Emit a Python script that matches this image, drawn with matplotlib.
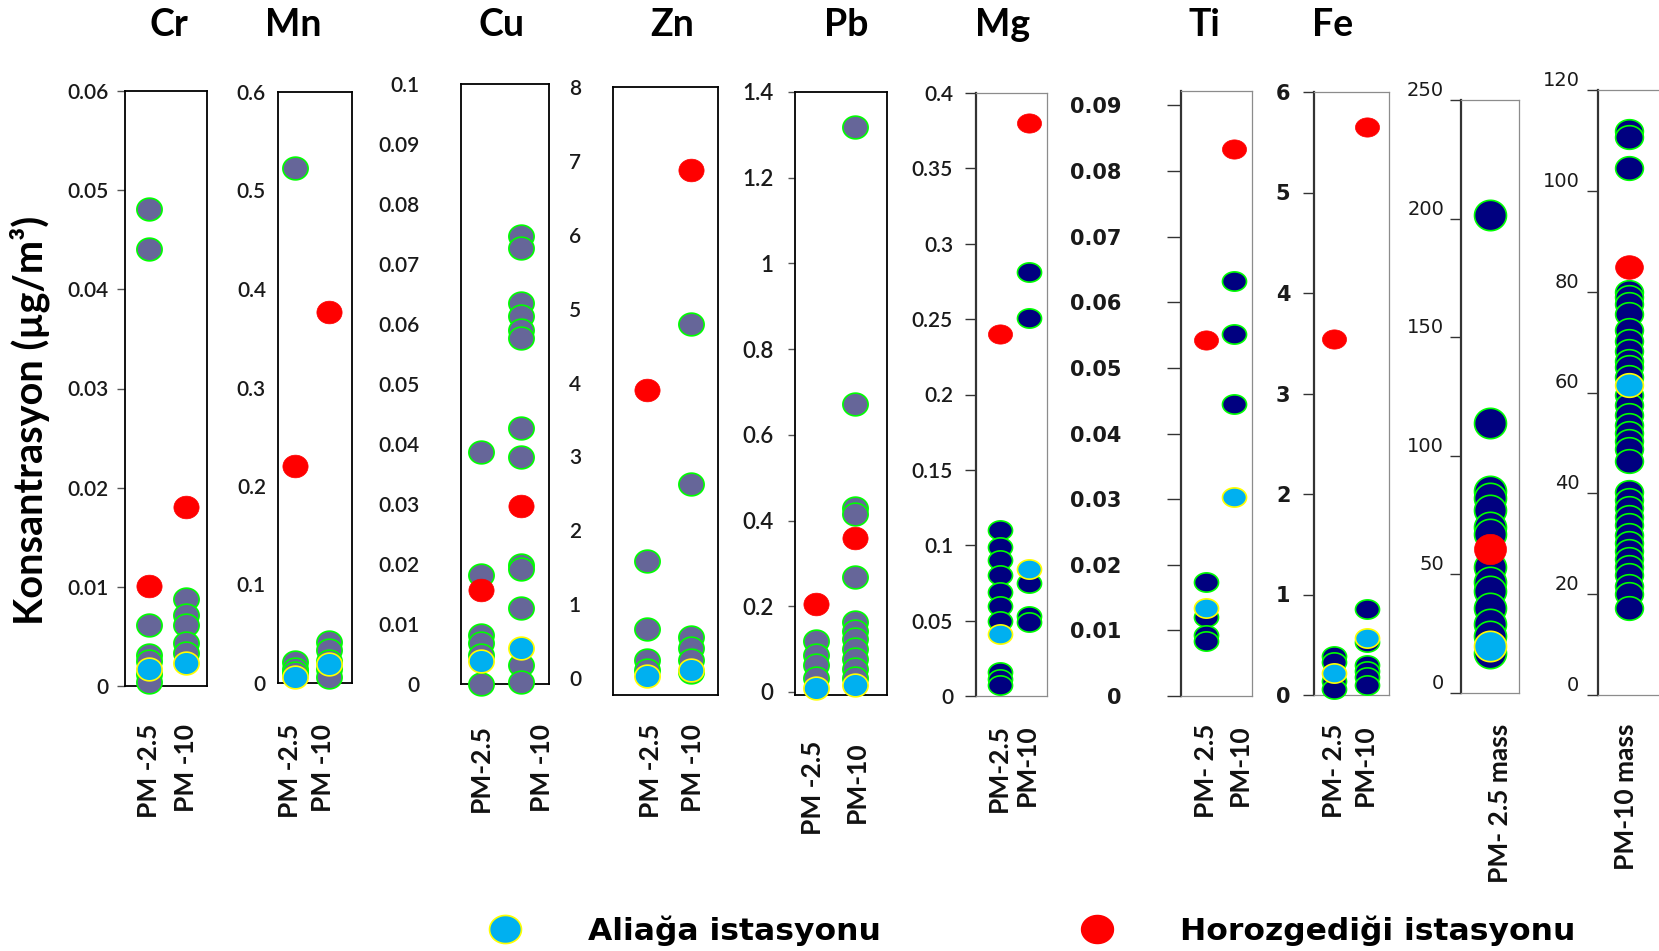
import numpy as np
import matplotlib
matplotlib.use("Agg")
import matplotlib.pyplot as plt
from matplotlib.path import Path
from matplotlib.lines import Line2D

W, H = 1659, 951

# %% data
# each metal: individual samples for PM-2.5 / PM-10, plus station means
cr_pm25 = [0.0481, 0.0441, 0.0062, 0.0031, 0.0025, 0.0012, 0.0004]
cr_pm10 = [0.0088, 0.0072, 0.0062, 0.0043, 0.0033]
cr_aliaga = [0.0017, 0.0023]
cr_horoz = [0.0101, 0.0181]

mn_pm25 = [0.523, 0.021, 0.0145, 0.010]
mn_pm10 = [0.0415, 0.033, 0.0228, 0.0145, 0.006]
mn_aliaga = [0.006, 0.019]
mn_horoz = [0.220, 0.377]

cu_pm25 = [0.0386, 0.0181, 0.0082, 0.0068, 0.0048, 0.0]
cu_pm10 = [0.0747, 0.0727, 0.0635, 0.0614, 0.059, 0.0577, 0.0427, 0.0379,
           0.0198, 0.0191, 0.0126, 0.0031, 0.0003]
cu_aliaga = [0.0038, 0.006]
cu_horoz = [0.0157, 0.0297]

zn_pm25 = [1.58, 0.66, 0.25, 0.11]
zn_pm10 = [4.79, 2.63, 0.55, 0.41, 0.25, 0.08]
zn_aliaga = [0.03, 0.11]
zn_horoz = [3.90, 6.87]

pb_pm25 = [0.12, 0.086, 0.062, 0.033]
pb_pm10 = [1.319, 0.671, 0.43, 0.416, 0.268, 0.1625, 0.143, 0.124, 0.10,
           0.076, 0.053, 0.033]
pb_aliaga = [0.01, 0.016]
pb_horoz = [0.206, 0.360]

mg_pm25 = [0.110, 0.099, 0.090, 0.080, 0.069, 0.060, 0.050, 0.016, 0.011, 0.007]
mg_pm10 = [0.281, 0.251, 0.075, 0.053, 0.049]
mg_aliaga = [0.041, 0.084]
mg_horoz = [0.240, 0.380]

ti_pm25 = [0.0173, 0.0121, 0.0093, 0.0084]
ti_pm10 = [0.0632, 0.0552, 0.0445]
ti_aliaga = [0.0134, 0.0303]
ti_horoz = [0.0543, 0.0833]

fe_pm25 = [0.39, 0.33, 0.14, 0.06]
fe_pm10 = [0.86, 0.53, 0.30, 0.24, 0.18, 0.10]
fe_aliaga = [0.22, 0.57]
fe_horoz = [3.54, 5.65]

pm25_mass = [201.7, 114, 85, 82, 77, 70, 67, 53, 47, 43, 36, 29, 24, 17]
pm25_mass_aliaga = [20]
pm25_mass_horoz = [60.6]

pm10_mass = [111.9, 110.7, 104.5, 80, 78.9, 77.6, 75.5, 72.3, 70.3, 68.3, 66.3,
             65, 63, 59.6, 57.6, 55.6, 53.6, 52, 50.4, 48.8, 46.4, 40.3, 38.7,
             37, 35.4, 33.8, 31.8, 30.2, 28.6, 27, 25.4, 23.8, 21.7, 20.1, 17.2]
pm10_mass_aliaga = [61.5]
pm10_mass_horoz = [84.8]

# %% panel layout (pixel boxes: left, top, right, bottom)
LATO = dict(family="Lato", weight="semibold", size=15)
panels = [
    dict(title="Cr", samples=[cr_pm25, cr_pm10], ali=cr_aliaga, hor=cr_horoz,
         box=(125, 91, 207, 686), xp=(149, 186), xl=(149, 186),
         labels=["PM -2.5", "PM -10"], ylim=(0, 0.06), ticks=np.arange(0, 0.061, 0.01),
         style="black", tlen=6, lpad=6, tx=169, font=LATO),
    dict(title="Mn", samples=[mn_pm25, mn_pm10], ali=mn_aliaga, hor=mn_horoz,
         box=(278, 92, 352, 683), xp=(295, 329), xl=(290, 323),
         labels=["PM -2.5", "PM -10"], ylim=(0, 0.6), ticks=np.arange(0, 0.61, 0.1),
         style="black", tlen=0, lpad=8.7, tx=293, font=LATO),
    dict(title="Cu", samples=[cu_pm25, cu_pm10], ali=cu_aliaga, hor=cu_horoz,
         box=(461, 84, 549, 684), xp=(481, 521), xl=(481, 542),
         labels=["PM-2.5", "PM -10"], ylim=(0, 0.1), ticks=np.arange(0, 0.101, 0.01),
         style="black", tlen=0, lpad=30, tx=502, font=LATO),
    dict(title="Zn", samples=[zn_pm25, zn_pm10], ali=zn_aliaga, hor=zn_horoz,
         box=(613, 87, 718, 695), xp=(647, 691), xl=(651, 693),
         labels=["PM -2.5", "PM -10"], ylim=(-0.23, 8), ticks=np.arange(0, 9, 1),
         style="black", tlen=0, lpad=23, tx=672, font=LATO),
    dict(title="Pb", samples=[pb_pm25, pb_pm10], ali=pb_aliaga, hor=pb_horoz,
         box=(795, 92, 887, 695), xp=(816, 855), xl=(813, 857),
         labels=["PM -2.5", "PM-10"], ylim=(-0.007, 1.4), ticks=np.arange(0, 1.41, 0.2),
         style="black", tlen=5, lpad=10.4, tx=846, xtop=741,
         font=dict(LATO, size=16)),
    dict(title="Mg", samples=[mg_pm25, mg_pm10], ali=mg_aliaga, hor=mg_horoz,
         box=(976, 93, 1047, 696), xp=(1000, 1029), xl=(999, 1027),
         labels=["PM-2.5", "PM-10"], ylim=(0, 0.4), ticks=np.arange(0, 0.401, 0.05),
         style="grey", tlen=8, lpad=8.5, tx=1003, font=LATO),
    dict(title="Ti", samples=[ti_pm25, ti_pm10], ali=ti_aliaga, hor=ti_horoz,
         box=(1181, 91, 1252, 696), xp=(1206, 1234), xl=(1206, 1240),
         labels=["PM- 2.5", "PM-10"], ylim=(0, 0.0922), ticks=np.arange(0, 0.091, 0.01),
         style="grey", tlen=10, lpad=33, tx=1204,
         font=dict(family="DejaVu Sans", weight="bold", size=15)),
    dict(title="Fe", samples=[fe_pm25, fe_pm10], ali=fe_aliaga, hor=fe_horoz,
         box=(1314, 92, 1389, 695), xp=(1334, 1367), xl=(1334, 1365),
         labels=["PM- 2.5", "PM-10"], ylim=(0, 6), ticks=np.arange(0, 7, 1),
         style="grey", tlen=8, lpad=9, tx=1333,
         font=dict(family="DejaVu Sans", weight="bold", size=15)),
    dict(title=None, samples=[pm25_mass], ali=pm25_mass_aliaga, hor=pm25_mass_horoz,
         box=(1461, 100, 1519, 693), xp=(1490, 1530), xl=(1500,),
         labels=["PM- 2.5 mass"], ylim=(0, 250), ticks=np.arange(0, 251, 50),
         style="grey", tlen=8, lpad=4.2, tx=None, ms=(530, 0.95),
         font=dict(family="DejaVu Sans", weight="normal", size=14)),
    dict(title=None, samples=[pm10_mass], ali=pm10_mass_aliaga, hor=pm10_mass_horoz,
         box=(1598, 90, 1668, 695), xp=(1629, 1669), xl=(1626,),
         labels=["PM-10 mass"], ylim=(0, 120), ticks=np.arange(0, 121, 20),
         style="grey", tlen=8, lpad=5.4, tx=None, ms=(400, 0.85),
         font=dict(family="DejaVu Sans", weight="normal", size=14)),
]

def ellipse(aspect):
    t = np.linspace(0, 2 * np.pi, 64)
    return Path(np.c_[np.cos(t), aspect * np.sin(t)], closed=True)

grey, navy, lime = "#666699", "#000080", "#00ff00"
cyan, yel, red = "#00b0f0", "#ffff00", "#ff0000"

fig = plt.figure(figsize=(W / 100, H / 100), dpi=100)

for k, p in enumerate(panels):
    L, T, R, B = p["box"]
    ax = fig.add_axes([L / W, 1 - B / H, (R - L) / W, (B - T) / H])
    x0, x1 = p["xp"]
    unit = x1 - x0
    ax.set_xlim((L - x0) / unit, (R - x0) / unit)
    ax.set_ylim(*p["ylim"])

    dark = p["style"] == "black"
    face = grey if dark else navy
    if "ms" in p:
        s, asp = p["ms"]
    elif dark:
        s, asp = 330, 0.9
    else:
        s, asp = 300, 0.8
    mk = ellipse(asp)
    for i, vals in enumerate(p["samples"]):
        ax.scatter(np.full(len(vals), i), vals, s=s, marker=mk, c=face,
                   edgecolors=lime, linewidths=1.2, zorder=3, clip_on=False)
    xs = np.arange(len(p["ali"]))
    ax.scatter(xs, p["ali"], s=s, marker=mk, c=cyan, edgecolors=yel,
               linewidths=1.2, zorder=4, clip_on=False)
    ax.scatter(xs, p["hor"], s=s, marker=mk, c=red, edgecolors=red,
               linewidths=0.5, zorder=5, clip_on=False)

    # frame
    for side in ["top", "right", "bottom", "left"]:
        sp = ax.spines[side]
        if dark:
            sp.set_color("black"); sp.set_linewidth(1.3)
        else:
            sp.set_color("#8c8c8c"); sp.set_linewidth(0.9)
    if not dark:
        ax.spines["left"].set_color("#333333")
        ax.spines["left"].set_linewidth(1.6)

    ax.set_yticks(p["ticks"])
    ax.set_yticklabels(["%g" % round(v, 3) for v in p["ticks"]], **p["font"])
    ax.tick_params(axis="y", length=p["tlen"], width=1.0,
                   color="#555555" if dark else "#333333",
                   pad=p["lpad"], labelcolor="#1a1a1a")
    if "ms" in p:
        for lab in ax.get_yticklabels():
            lab.set_va("bottom")

    xt = [(x - x0) / unit for x in p["xl"]]
    ax.set_xticks(xt)
    ax.set_xticklabels(p["labels"], rotation=90, fontsize=19,
                       family="Lato", weight="bold")
    top = p.get("xtop", 724)
    ax.tick_params(axis="x", length=0, pad=(top - B) / 1.389,
                   labelcolor="#111111")

    if p["title"]:
        fig.text(p["tx"] / W, 1 - 25 / H, p["title"], ha="center", va="center",
                 fontsize=27, fontweight="bold", family="Lato")

fig.text(30 / W, 1 - 420 / H, "Konsantrasyon (µg/m³)", rotation=90,
         ha="center", va="center", fontsize=28.5, fontweight="bold", family="Lato")

leg_mk = ellipse(0.88)
h_ali = Line2D([], [], ls="", marker=leg_mk, ms=23, mfc=cyan, mec=yel, mew=1.2)
h_hor = Line2D([], [], ls="", marker=leg_mk, ms=23, mfc=red, mec=red)
fig.legend([h_ali, h_hor], ["Aliağa istasyonu", "Horozgediği istasyonu"],
           loc="center", bbox_to_anchor=(1024.5 / W, 1 - 931 / H), ncol=2,
           frameon=False, columnspacing=5.9, handletextpad=1.65,
           prop=dict(size=22.6, weight="bold", family="DejaVu Sans"))

fig.savefig("out.png", dpi=100)
